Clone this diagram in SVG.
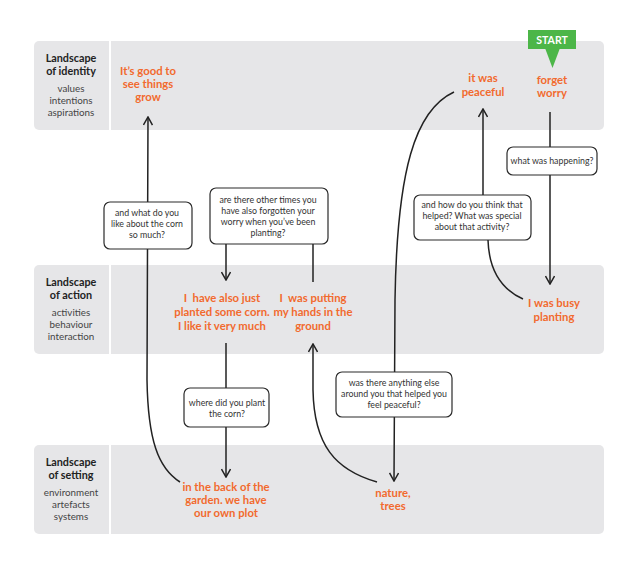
<svg xmlns="http://www.w3.org/2000/svg" width="640" height="566" viewBox="0 0 640 566">
<style>
.band{fill:#e6e6e8}
.lh{font-family:Lato,"Liberation Sans",sans-serif;font-weight:bold;font-size:10.8px;fill:#222;text-anchor:middle}
.ls{font-family:Lato,"Liberation Sans",sans-serif;font-size:9.8px;fill:#444;text-anchor:middle}
.o{font-family:Lato,"Liberation Sans",sans-serif;font-weight:bold;font-size:11.3px;fill:#f26a2e;text-anchor:middle}
.q{font-family:Lato,"Liberation Sans",sans-serif;font-size:8.8px;fill:#333;text-anchor:middle}
.box{fill:#fff;stroke:#2a2a2a;stroke-width:1.2}
.c{fill:none;stroke:#222;stroke-width:1.5}
</style>
<defs>
<marker id="ah" viewBox="0 0 10 10" refX="9" refY="5" markerWidth="10" markerHeight="10" markerUnits="userSpaceOnUse" orient="auto">
<path d="M1,0.5 L9,5 L1,9.5" fill="none" stroke="#222" stroke-width="1.5"/>
</marker>
</defs>
<g id="bands">
<path class="band" d="M39,41 H109 V130 H39 A5,5 0 0 1 34,125 V46 A5,5 0 0 1 39,41 Z"/>
<path class="band" d="M111,41 H599 A5,5 0 0 1 604,46 V125 A5,5 0 0 1 599,130 H111 Z"/>
<path class="band" d="M39,265 H109 V354 H39 A5,5 0 0 1 34,349 V270 A5,5 0 0 1 39,265 Z"/>
<path class="band" d="M111,265 H599 A5,5 0 0 1 604,270 V349 A5,5 0 0 1 599,354 H111 Z"/>
<path class="band" d="M39,445 H109 V534 H39 A5,5 0 0 1 34,529 V450 A5,5 0 0 1 39,445 Z"/>
<path class="band" d="M111,445 H599 A5,5 0 0 1 604,450 V529 A5,5 0 0 1 599,534 H111 Z"/>
<text class="lh" x="71" y="62">Landscape</text>
<text class="lh" x="71" y="75">of identity</text>
<text class="ls" x="71" y="92">values</text>
<text class="ls" x="71" y="104">intentions</text>
<text class="ls" x="71" y="116">aspirations</text>
<text class="lh" x="71" y="286">Landscape</text>
<text class="lh" x="71" y="299">of action</text>
<text class="ls" x="71" y="316">activities</text>
<text class="ls" x="71" y="328">behaviour</text>
<text class="ls" x="71" y="340">interaction</text>
<text class="lh" x="71" y="466">Landscape</text>
<text class="lh" x="71" y="479">of setting</text>
<text class="ls" x="71" y="496">environment</text>
<text class="ls" x="71" y="508">artefacts</text>
<text class="ls" x="71" y="520">systems</text>
</g>
<g id="connectors">
<path class="c" d="M180,482 C158,468 148,440 147,380 L148,117" marker-end="url(#ah)"/>
<path class="c" d="M313,282 L313,244"/>
<path class="c" d="M226,244 L226,280" marker-end="url(#ah)"/>
<path class="c" d="M226,343 L226,477" marker-end="url(#ah)"/>
<path class="c" d="M377,482 C335,470 314,445 313,390 L313,344" marker-end="url(#ah)"/>
<path class="c" d="M454,92 C415,110 397,170 395,300 L394,481" marker-end="url(#ah)"/>
<path class="c" d="M523,299 C503,290 489,272 488,240"/>
<path class="c" d="M483,195 L483,109" marker-end="url(#ah)"/>
<path class="c" d="M550,112 L550,284" marker-end="url(#ah)"/>
</g>
<g id="start">
<rect x="528" y="30" width="48" height="19" fill="#4cb648"/>
<path d="M545,48 L560,48 L552.5,68 Z" fill="#4cb648"/>
<text x="552" y="44" font-family="Lato,'Liberation Sans',sans-serif" font-weight="bold" font-size="10.5px" fill="#fff" text-anchor="middle">START</text>
</g>
<g id="n-good">
<text class="o" x="148" y="75">It’s good to</text>
<text class="o" x="148" y="88">see things</text>
<text class="o" x="148" y="101">grow</text>
</g>
<g id="n-peaceful">
<text class="o" x="483" y="82">it was</text>
<text class="o" x="483" y="96">peaceful</text>
</g>
<g id="n-forget">
<text class="o" x="552" y="84">forget</text>
<text class="o" x="552" y="97">worry</text>
</g>
<g id="n-corn">
<text class="o" x="222" y="302" xml:space="preserve">I  have also just</text>
<text class="o" x="222" y="316">planted some corn.</text>
<text class="o" x="222" y="330">I like it very much</text>
</g>
<g id="n-hands">
<text class="o" x="313" y="302" xml:space="preserve">I  was putting</text>
<text class="o" x="313" y="316">my hands in the</text>
<text class="o" x="313" y="330">ground</text>
</g>
<g id="n-busy">
<text class="o" x="554" y="307">I was busy</text>
<text class="o" x="554" y="321">planting</text>
</g>
<g id="n-garden">
<text class="o" x="226" y="491">in the back of the</text>
<text class="o" x="226" y="504">garden. we have</text>
<text class="o" x="226" y="517">our own plot</text>
</g>
<g id="n-nature">
<text class="o" x="393" y="497">nature,</text>
<text class="o" x="393" y="510">trees</text>
</g>
<g id="q-like">
<rect class="box" x="104" y="202" width="88" height="47" rx="6"/>
<text class="q" x="147" y="216">and what do you</text>
<text class="q" x="147" y="227">like about the corn</text>
<text class="q" x="147" y="238">so much?</text>
</g>
<g id="q-other">
<rect class="box" x="210" y="188" width="118" height="56" rx="6"/>
<text class="q" x="268" y="203">are there other times you</text>
<text class="q" x="268" y="214">have also forgotten your</text>
<text class="q" x="268" y="225">worry when you’ve been</text>
<text class="q" x="268" y="236">planting?</text>
</g>
<g id="q-where">
<rect class="box" x="184" y="388" width="85" height="39" rx="6"/>
<text class="q" x="227" y="406">where did you plant</text>
<text class="q" x="227" y="417">the corn?</text>
</g>
<g id="q-anything">
<rect class="box" x="336" y="372" width="116" height="45" rx="6"/>
<text class="q" x="394" y="386">was there anything else</text>
<text class="q" x="394" y="397">around you that helped you</text>
<text class="q" x="394" y="408">feel peaceful?</text>
</g>
<g id="q-helped">
<rect class="box" x="414" y="195" width="117" height="45" rx="6"/>
<text class="q" x="472" y="208">and how do you think that</text>
<text class="q" x="472" y="219">helped? What was special</text>
<text class="q" x="472" y="230">about that activity?</text>
</g>
<g id="q-happening">
<rect class="box" x="507" y="147" width="90" height="28" rx="6"/>
<text class="q" x="552" y="164">what was happening?</text>
</g>
</svg>
